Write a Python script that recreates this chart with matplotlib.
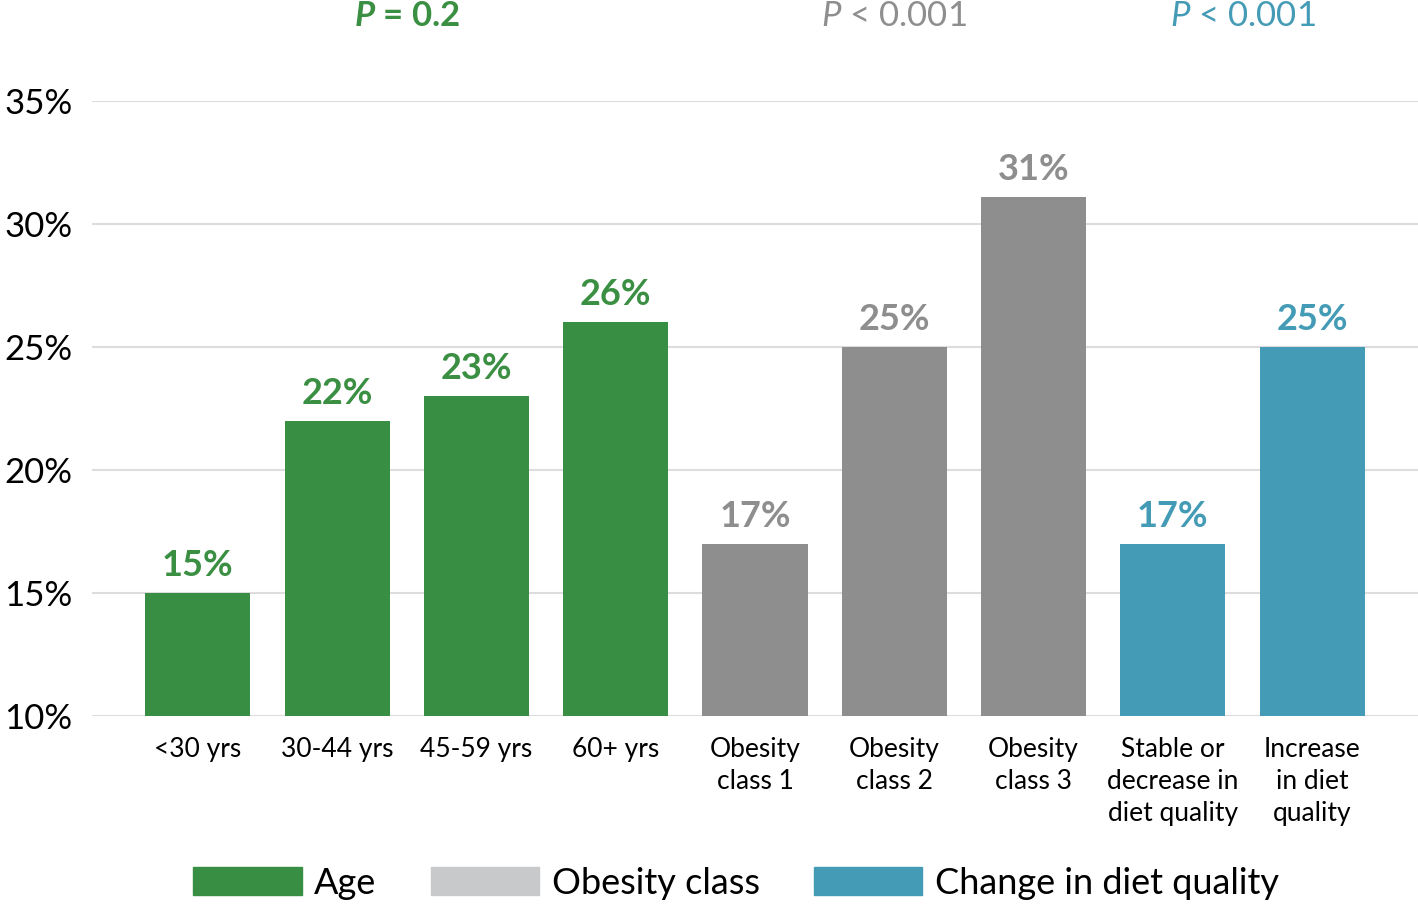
import matplotlib
matplotlib.use("Agg")
import matplotlib.pyplot as plt
from matplotlib.patches import Patch
from matplotlib.transforms import blended_transform_factory

plt.rcParams['font.family'] = ['Lato', 'DejaVu Sans']
plt.rcParams['mathtext.fontset'] = 'custom'
plt.rcParams['mathtext.rm'] = 'Lato'
plt.rcParams['mathtext.it'] = 'Lato:italic'
plt.rcParams['mathtext.bfit'] = 'Lato:italic:bold'

# data
categories = ["<30 yrs", "30-44 yrs", "45-59 yrs", "60+ yrs",
              "Obesity\nclass 1", "Obesity\nclass 2", "Obesity\nclass 3",
              "Stable or\ndecrease in\ndiet quality", "Increase\nin diet\nquality"]
values = [15, 22, 23, 26, 17, 25, 31.1, 17, 25]
value_labels = ["15%", "22%", "23%", "26%", "17%", "25%", "31%", "17%", "25%"]
groups = [0, 0, 0, 0, 1, 1, 1, 2, 2]
group_names = ["Age", "Obesity class", "Change in diet quality"]
p_labels = [r"$\mathbfit{P}$ = 0.2", r"$\mathit{P}$ < 0.001", r"$\mathit{P}$ < 0.001"]
p_weights = ["bold", "normal", "normal"]
yticks = [10, 15, 20, 25, 30, 35]

bar_colors = ["#388e43", "#8e8e8e", "#449bb6"]
text_colors = ["#3a8f42", "#8e8e8e", "#449bb6"]
legend_colors = ["#388e43", "#c8c9ca", "#449bb6"]

fig = plt.figure(figsize=(14.18, 9.05), dpi=100)
ax = fig.add_axes([0.0649, 0.2088, 0.9351, 0.6796])

x = list(range(len(categories)))
ax.bar(x, [v - 10 for v in values], bottom=10, width=0.755,
       color=[bar_colors[g] for g in groups], zorder=3)

for xi, v, lab, g in zip(x, values, value_labels, groups):
    ax.annotate(lab, (xi, v), xytext=(0, 8), textcoords="offset points",
                ha="center", va="bottom", fontsize=26, fontweight="bold",
                color=text_colors[g])

ax.set_xlim(-0.76, 8.76)
ax.set_ylim(10, 35)
ax.set_yticks(yticks)
ax.set_yticklabels([f"{t}%" for t in yticks], fontsize=25)
ax.set_xticks(x)
ax.set_xticklabels(categories, fontsize=19, linespacing=1.35, va="top")
ax.tick_params(axis="both", length=0)
ax.tick_params(axis="y", pad=14)
ax.tick_params(axis="x", pad=15)
ax.grid(axis="y", color="#dddddd", linewidth=1.5, zorder=0)
for s in ax.spines.values():
    s.set_visible(False)

# p-values above each group
trans = blended_transform_factory(ax.transData, fig.transFigure)
for gi in range(3):
    idx = [i for i, g in enumerate(groups) if g == gi]
    cx = (idx[0] + idx[-1]) / 2
    ax.text(cx, 0.971, p_labels[gi], transform=trans, ha="center", va="baseline",
            fontsize=25, color=text_colors[gi], fontweight=p_weights[gi])

handles = [Patch(color=c) for c in legend_colors]
fig.legend(handles, group_names, loc="center", bbox_to_anchor=(0.519, 0.024),
           ncol=3, frameon=False, fontsize=26, handlelength=3.0,
           handleheight=0.8, handletextpad=0.35, columnspacing=1.5)

fig.savefig("out.png", dpi=100)
